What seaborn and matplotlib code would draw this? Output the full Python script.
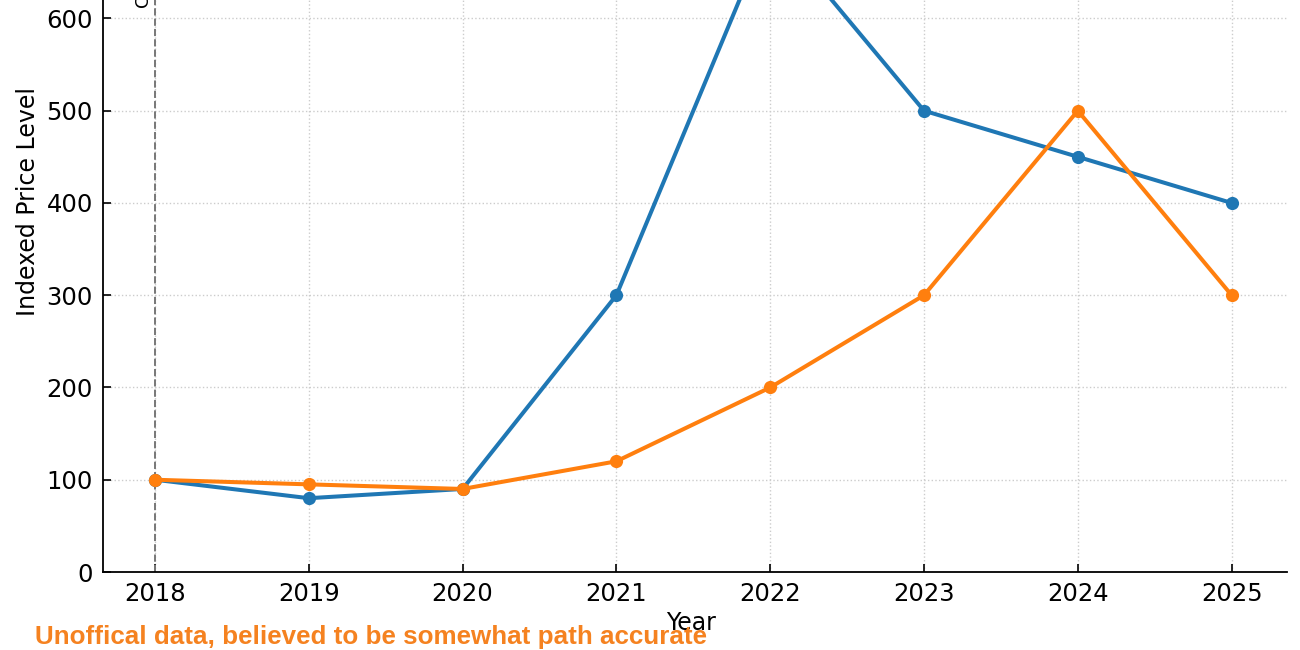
import numpy as np
import pandas as pd
import matplotlib
matplotlib.use("Agg")
import matplotlib.pyplot as plt
import seaborn as sns

# ------------------------------------------------------------
# Data
# ------------------------------------------------------------
years = [2018, 2019, 2020, 2021, 2022, 2023, 2024, 2025]
official_index = [100, 80, 90, 300, 700, 500, 450, 400]
unofficial_index = [100, 95, 90, 120, 200, 300, 500, 300]
series_names = ["Official index", "Unofficial estimate"]
series_colors = ["#1f77b4", "#ff7f0e"]
y_ticks = [0, 100, 200, 300, 400, 500, 600]
marker_year = 2018
marker_text = "Crisis onset"
footnote = "Unoffical data, believed to be somewhat path accurate"

df = pd.concat([
    pd.DataFrame({"Year": years, "Index": official_index, "Series": series_names[0]}),
    pd.DataFrame({"Year": years, "Index": unofficial_index, "Series": series_names[1]}),
])

# ------------------------------------------------------------
# Plot
# ------------------------------------------------------------
sns.set_style("ticks", rc={
    "text.color": "black",
    "axes.labelcolor": "black",
    "xtick.color": "black",
    "ytick.color": "black",
    "xtick.direction": "in",
    "ytick.direction": "in",
})
plt.rcParams["font.family"] = ["DejaVu Sans"]

fig = plt.figure(figsize=(13, 6.5), dpi=100)
ax = fig.add_axes([0.079, 0.12, 0.911, 0.88])

sns.lineplot(
    data=df, x="Year", y="Index", hue="Series",
    hue_order=series_names, palette=series_colors,
    marker="o", markersize=9.5, markeredgewidth=0,
    linewidth=2.9, legend=False, ax=ax,
)

ax.axvline(marker_year, color="#777777", linestyle="--", linewidth=1.4, zorder=1)
ax.text(marker_year - 0.07, 611, marker_text, rotation=90, ha="center", va="bottom",
        fontsize=13, clip_on=True)

ax.set_xticks(years)
ax.set_yticks(y_ticks)
ax.set_xlim(2017.66, 2025.36)
ax.set_ylim(0, 620)
ax.tick_params(labelsize=17.5, length=6, width=1.2, pad=7)

ax.grid(True, linestyle=":", color="#cccccc", linewidth=1.0)
ax.set_axisbelow(True)
sns.despine(ax=ax, top=True, right=True)
for s in ["left", "bottom"]:
    ax.spines[s].set_linewidth(1.3)
    ax.spines[s].set_color("black")

ax.set_xlabel("Year", fontsize=17, labelpad=0)
ax.xaxis.set_label_coords(0.497, -0.068)
ax.set_ylabel("Indexed Price Level", fontsize=17)
ax.yaxis.set_label_coords(-0.053, 0.647)

fig.text(0.027, 0.002, footnote, color="#f58220", fontsize=18.7,
         fontweight="bold", family=["Liberation Sans", "DejaVu Sans"], ha="left", va="bottom")

fig.savefig("out.png", dpi=100)
